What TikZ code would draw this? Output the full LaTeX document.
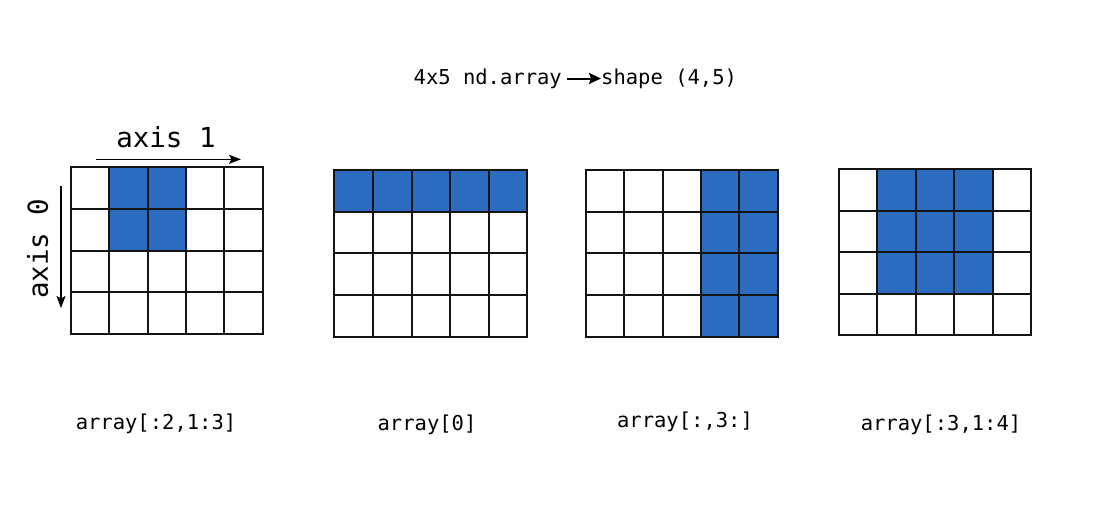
\documentclass[tikz,border=0pt]{standalone}
\usepackage{fontspec}
\setmonofont{DejaVu Sans Mono}
\usetikzlibrary{arrows.meta}
\definecolor{cellblue}{RGB}{43,108,193}
\definecolor{gridink}{RGB}{20,20,20}
\newcommand\npgrid[5]{%
  \pgfmathsetmacro\cw{(#3-#1)/5}%
  \pgfmathsetmacro\ch{(#4-#2)/4}%
  \foreach \r/\c in {#5} {\fill[cellblue] (#1+\c*\cw,#2+\r*\ch) rectangle ++(\cw,\ch);}%
  \foreach \i in {0,...,5} {\draw[gridline] (#1+\i*\cw,#2) -- (#1+\i*\cw,#4);}%
  \foreach \j in {0,...,4} {\draw[gridline] (#1,#2+\j*\ch) -- (#3,#2+\j*\ch);}%
}
\begin{document}
\begin{tikzpicture}[x=1pt,y=-1pt,
  gridline/.style={draw=gridink,line width=2pt,line cap=rect},
  codelabel/.style={font=\ttfamily\fontsize{20.5}{24}\selectfont,inner sep=0pt},
  axislabel/.style={font=\ttfamily\fontsize{27.5}{32}\selectfont,inner sep=0pt},
  axisarrow/.style={line width=1.5pt,-{Stealth[length=12pt,width=9pt,inset=2.5pt]}}]
\useasboundingbox (0,0) rectangle (1100,506);
\fill[white] (0,0) rectangle (1100,506);

% title
\node[codelabel,anchor=east] (t1) at (562,78.5) {4x5 nd.array};
\node[codelabel,anchor=west] (t2) at (601,78.5) {shape (4,5)};
\draw[line width=2pt,-{Stealth[length=12pt,width=11pt,inset=2pt]}] (t1.east) ++(5,0) coordinate (ta) (ta) -- (t2.west);

% grids
\npgrid{70.7}{167.3}{262.7}{334}{0/1,0/2,1/1,1/2}
\npgrid{334.3}{170}{527.3}{336.7}{0/0,0/1,0/2,0/3,0/4}
\npgrid{585.7}{170}{777.7}{336.7}{0/3,0/4,1/3,1/4,2/3,2/4,3/3,3/4}
\npgrid{839}{169}{1031}{335}{0/1,0/2,0/3,1/1,1/2,1/3,2/1,2/2,2/3}

% axes
\node[axislabel] (ax1) at (166,137.5) {axis 1};
\coordinate (a1s) at (95.7,159.3);
\coordinate (a1e) at (241,159.3);
\draw[axisarrow] (a1s) -- (a1e);
\node[axislabel,rotate=90] (ax0) at (37.5,249) {axis 0};
\coordinate (a0s) at (61,186);
\coordinate (a0e) at (61,308);
\draw[axisarrow] (a0s) -- (a0e);

% labels
\node[codelabel] (l1) at (156,423.5) {array[:2,1:3]};
\node[codelabel] (l2) at (427,424.5) {array[0]};
\node[codelabel] (l3) at (685,421.5) {array[:,3:]};
\node[codelabel] (l4) at (941,424.5) {array[:3,1:4]};
\end{tikzpicture}
\end{document}
